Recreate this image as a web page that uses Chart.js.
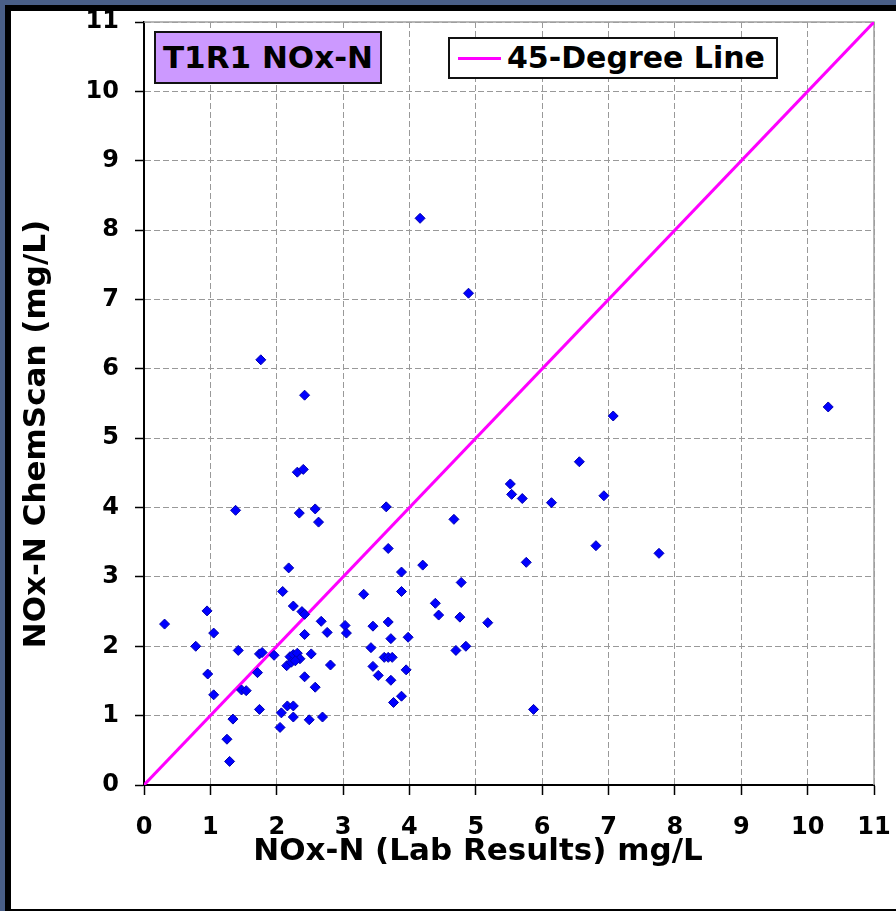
<!DOCTYPE html>
<html>
<head>
<meta charset="utf-8">
<script src="https://cdn.jsdelivr.net/npm/chart.js@4.4.0/dist/chart.umd.min.js"></script>
<style>
  html, body { margin: 0; padding: 0; overflow: hidden; background: #4a5f87; }
  #wrap { position: relative; width: 896px; height: 911px; }
  #Chart { position: absolute; left: 0; top: 0; }
  .box { position: absolute; font-family: "DejaVu Sans", Verdana, sans-serif; font-weight: bold; color: #000; box-sizing: border-box; }
  #titulo { left: 154px; top: 31px; width: 228px; height: 53px; background: #cc99ff; border: 2px solid #111; font-size: 31px; line-height: 49px; text-align: center; }
  #leyenda { left: 448px; top: 37px; width: 330px; height: 42px; background: #fff; border: 2px solid #111; font-size: 30px; line-height: 38px; padding-left: 57px; white-space: nowrap; }
  #leyenda span { position: absolute; left: 8px; top: 18px; width: 43px; height: 3px; background: #ff00ff; }
</style>
</head>
<body>
<div id="wrap">
  <canvas id="Chart" width="896" height="911"></canvas>
  <div id="titulo" class="box">T1R1 NOx-N</div>
  <div id="leyenda" class="box"><span></span>45-Degree Line</div>
</div>
<script>
// NOx-N lab results (x) vs ChemScan (y), mg/L
const labResults = [
  1.76, 2.42, 2.31, 2.40, 1.38, 2.34, 2.58, 2.63, 3.65, 3.68,
  4.16, 4.89, 4.20, 2.18, 3.88, 2.09, 3.31, 3.88, 4.39, 4.44,
  0.95, 2.25, 2.38, 2.42, 2.67, 0.31, 1.05, 2.42, 2.76, 3.03,
  3.05, 3.45, 3.68, 3.72, 3.98, 0.78, 1.42, 1.74, 1.78, 1.96,
  2.52, 3.42, 2.20, 2.25, 2.31, 2.35, 2.15, 2.22, 2.28, 2.81,
  1.71, 0.96, 2.42, 2.58, 3.45, 3.62, 3.68, 3.74, 3.53, 3.72,
  3.95, 3.88, 3.76, 1.05, 1.47, 1.54, 1.74, 2.16, 2.25, 2.07,
  2.25, 2.49, 2.69, 1.34, 2.05, 1.25, 1.29, 7.07, 6.56, 5.52,
  5.54, 5.70, 6.14, 6.93, 4.67, 6.81, 7.76, 5.76, 4.78, 4.76,
  5.18, 4.70, 4.85, 5.87, 10.31
];
const chemScan = [
  6.13, 5.62, 4.51, 4.55, 3.96, 3.92, 3.98, 3.79, 4.01, 3.41,
  8.17, 7.09, 3.17, 3.13, 3.07, 2.79, 2.75, 2.79, 2.62, 2.45,
  2.51, 2.58, 2.50, 2.46, 2.36, 2.32, 2.19, 2.17, 2.20, 2.30,
  2.19, 2.29, 2.35, 2.11, 2.13, 2.00, 1.94, 1.89, 1.91, 1.87,
  1.89, 1.98, 1.85, 1.88, 1.90, 1.82, 1.72, 1.77, 1.79, 1.73,
  1.62, 1.60, 1.56, 1.41, 1.71, 1.84, 1.84, 1.84, 1.58, 1.51,
  1.66, 1.28, 1.19, 1.30, 1.37, 1.36, 1.09, 1.14, 1.14, 1.04,
  0.98, 0.94, 0.98, 0.95, 0.83, 0.66, 0.34, 5.32, 4.66, 4.34,
  4.19, 4.13, 4.07, 4.17, 3.83, 3.45, 3.34, 3.21, 2.92, 2.42,
  2.34, 1.94, 2.00, 1.09, 5.45
];
const lineX = [0, 11];
const lineY = [0, 11];
const axisMin = 0;
const axisMax = 11;
const xTitle = 'NOx-N (Lab Results) mg/L';
const yTitle = 'NOx-N ChemScan (mg/L)';

const fuente = '"DejaVu Sans", Verdana, sans-serif';

// marco azul/negro y titulos de ejes
const marco = {
  id: 'marco',
  beforeDraw(chart) {
    const c = chart.ctx;
    c.save();
    c.fillStyle = '#4a5f87';
    c.fillRect(0, 0, 896, 911);
    c.fillStyle = '#000';
    c.fillRect(5, 5, 891, 906);
    c.fillStyle = '#fff';
    c.fillRect(11, 11, 885, 898);
    c.restore();
  },
  beforeDatasetsDraw(chart) {
    const a = chart.chartArea;
    const c = chart.ctx;
    c.save();
    c.strokeStyle = '#a0a0a0';
    c.lineWidth = 1.5;
    c.beginPath();
    c.moveTo(a.left, a.top);
    c.lineTo(a.right, a.top);
    c.lineTo(a.right, a.bottom);
    c.stroke();
    c.restore();
  },
  afterDraw(chart) {
    const c = chart.ctx;
    c.save();
    c.fillStyle = '#000';
    c.font = 'bold 31px ' + fuente;
    c.textAlign = 'center';
    c.textBaseline = 'middle';
    c.fillText(xTitle, 478, 852);
    c.translate(37, 434);
    c.rotate(-Math.PI / 2);
    c.fillText(yTitle, 0, 0);
    c.restore();
  }
};

const ctx = document.getElementById('Chart');
new Chart(ctx, {
  type: 'scatter',
  data: {
    datasets: [
      {
        label: 'ChemScan',
        data: labResults.map((x, i) => ({ x: x, y: chemScan[i] })),
        pointStyle: 'rectRot',
        pointRadius: 5,
        backgroundColor: '#0000ff',
        borderColor: '#0000b0',
        borderWidth: 1
      },
      {
        label: '45-Degree Line',
        data: lineX.map((x, i) => ({ x: x, y: lineY[i] })),
        showLine: true,
        pointRadius: 0,
        borderColor: '#ff00ff',
        borderWidth: 3
      }
    ]
  },
  options: {
    responsive: false,
    animation: false,
    layout: { padding: { left: 0, top: 22, right: 22, bottom: 0 } },
    plugins: {
      legend: { display: false },
      tooltip: { enabled: false }
    },
    scales: {
      x: {
        min: axisMin,
        max: axisMax,
        ticks: { stepSize: 1, color: '#000', padding: 18, maxRotation: 0, font: { family: fuente, size: 24, weight: 'bold' } },
        grid: { color: '#999', lineWidth: 1, tickLength: 10, tickColor: '#000', tickWidth: 1.5 },
        border: { display: true, color: '#000', width: 2, dash: [6, 3] },
        afterFit(s) { s.height = 126; s.paddingLeft = 0; s.paddingRight = 0; }
      },
      y: {
        min: axisMin,
        max: axisMax,
        ticks: { stepSize: 1, color: '#000', padding: 16, font: { family: fuente, size: 24, weight: 'bold' } },
        grid: { color: '#999', lineWidth: 1, tickLength: 9, tickColor: '#000', tickWidth: 1.5 },
        border: { display: true, color: '#000', width: 2, dash: [6, 3] },
        afterFit(s) { s.width = 144; s.paddingTop = 0; s.paddingBottom = 0; }
      }
    }
  },
  plugins: [marco]
});
</script>
</body>
</html>
